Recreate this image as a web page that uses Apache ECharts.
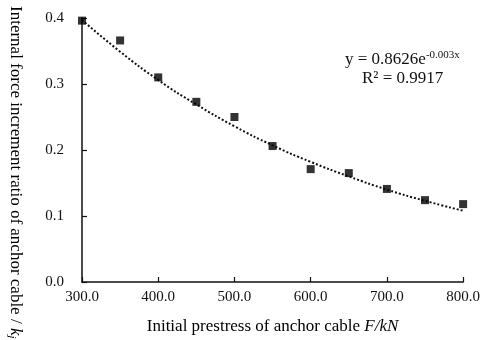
<!DOCTYPE html>
<html>
<head>
<meta charset="utf-8">
<script src="https://cdn.jsdelivr.net/npm/echarts@6/dist/echarts.min.js"></script>
<style>
  html, body { margin: 0; padding: 0; background: #fff; }
  #chart { width: 483px; height: 340px; }
</style>
</head>
<body>
<div id="chart"></div>
<script>
// prestress F (kN) and measured ratio k_j
const prestress = [300, 350, 400, 450, 500, 550, 600, 650, 700, 750, 800];
const measured = [0.396, 0.366, 0.310, 0.273, 0.250, 0.206, 0.171, 0.165, 0.141, 0.124, 0.118];
// exponential trendline
const trend = [0.397, 0.349, 0.306, 0.269, 0.236, 0.207, 0.182, 0.160, 0.140, 0.123, 0.108];
const xTicks = [300, 800, 100];
const yTicks = [0, 0.4, 0.1];

const serif = "'Liberation Serif', 'DejaVu Serif', serif";
const chart = echarts.init(document.getElementById("chart"));

chart.setOption({
  backgroundColor: "#fff",
  animation: false,
  grid: { left: 82, right: 16, top: 18, bottom: 57 },
  xAxis: {
    type: "value",
    min: xTicks[0], max: xTicks[1], interval: xTicks[2],
    name: "Initial prestress of anchor cable {i|F/kN}",
    nameLocation: "middle",
    nameGap: 36,
    nameTextStyle: {
      fontFamily: serif, fontSize: 17, color: "#000",
      rich: { i: { fontFamily: serif, fontSize: 17, fontStyle: "italic", color: "#000" } }
    },
    axisLine: { lineStyle: { color: "#111", width: 1.5 } },
    axisTick: { inside: true, length: 5, lineStyle: { color: "#111", width: 1.2 } },
    axisLabel: { fontFamily: serif, fontSize: 15, color: "#111", margin: 8,
      formatter: (v) => v.toFixed(1) },
    splitLine: { show: false }
  },
  yAxis: {
    type: "value",
    min: yTicks[0], max: yTicks[1], interval: yTicks[2],
    axisLine: { show: true, lineStyle: { color: "#111", width: 1.5 } },
    axisTick: { show: true, inside: true, length: 5, lineStyle: { color: "#111", width: 1.2 } },
    axisLabel: { fontFamily: serif, fontSize: 15, color: "#111", margin: 18,
      formatter: (v) => v.toFixed(1) },
    splitLine: { show: false }
  },
  graphic: [
    {
      type: "text",
      x: 25, y: 6,
      rotation: -Math.PI / 2,
      style: {
        text: "Internal force increment ratio of anchor cable / {i|k}{s|j}",
        fontFamily: serif, fontSize: 17, fill: "#000",
        textAlign: "left", textVerticalAlign: "top",
        rich: {
          i: { fontFamily: serif, fontSize: 17, fontStyle: "italic", fill: "#000" },
          s: { fontFamily: serif, fontSize: 11, fontStyle: "italic", fill: "#000", padding: [8, 0, 0, 0] }
        }
      }
    },
    {
      type: "text",
      x: 345, y: 50,
      style: {
        text: "y = 0.8626e{sup|-0.003x}",
        fontFamily: serif, fontSize: 17, fill: "#111",
        rich: { sup: { fontFamily: serif, fontSize: 11, fill: "#111", padding: [0, 0, 9, 0] } }
      }
    },
    {
      type: "text",
      x: 362, y: 70,
      style: { text: "R² = 0.9917", fontFamily: serif, fontSize: 17, fill: "#111" }
    }
  ],
  series: [
    {
      name: "trend",
      type: "line",
      smooth: true,
      symbol: "none",
      data: prestress.map((x, i) => [x, trend[i]]),
      lineStyle: { color: "#111", width: 2, type: [2, 2] },
      z: 2
    },
    {
      name: "measured",
      type: "scatter",
      symbol: "rect",
      symbolSize: 8,
      data: prestress.map((x, i) => [x, measured[i]]),
      itemStyle: { color: "#000" },
      z: 3
    }
  ]
});
</script>
</body>
</html>
